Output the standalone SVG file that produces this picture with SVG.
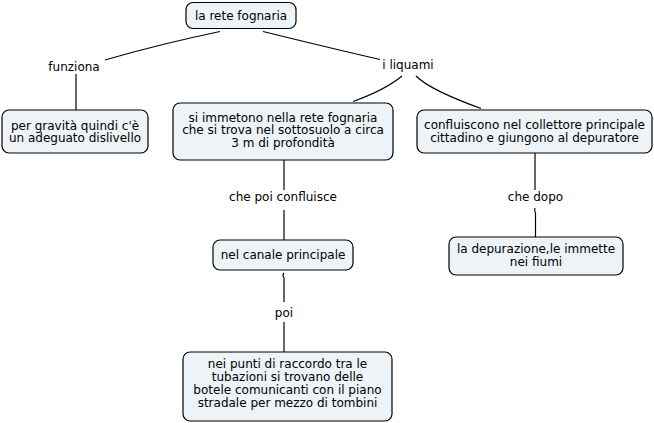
<svg xmlns="http://www.w3.org/2000/svg" width="654" height="423" viewBox="0 0 654 423">
<style>
.n rect{fill:#edf3f6;stroke:#000;stroke-width:1.2}
text{font-family:"DejaVu Sans",Verdana,sans-serif;font-size:12px;fill:#000;text-anchor:middle}
.c path{fill:none;stroke:#000;stroke-width:1.2}
</style>
<rect width="654" height="423" fill="#fff"/>
<g class="c" id="connectors">
<path d="M220,31.5 Q160,44 105,60"/>
<path d="M76,74 L76,110"/>
<path d="M263,31.5 Q330,48 380,59.5"/>
<path d="M402,76 Q385,90 353,101.5"/>
<path d="M416,76 Q430,90 481,108.5"/>
<path d="M284,160 L284,190"/>
<path d="M284,210 L284,240"/>
<path d="M284,273 Q282,275 284,278 L284,302"/>
<path d="M284,322 L284,352"/>
<path d="M535,153 L535,190"/>
<path d="M535,208 Q534,210 535.5,213 L535.5,237"/>
</g>
<g class="n" id="node-rete">
<rect x="186" y="2.5" width="110" height="26" rx="7"/>
<text x="241" y="19.5">la rete fognaria</text>
</g>
<g class="n" id="node-gravita">
<rect x="2" y="110" width="146" height="43" rx="7"/>
<text x="75" y="129.5">per gravità quindi c'è</text>
<text x="75" y="142.3">un adeguato dislivello</text>
</g>
<g class="n" id="node-immetono">
<rect x="173" y="103" width="220" height="57" rx="7"/>
<text x="283" y="121.7">si immetono nella rete fognaria</text>
<text x="283" y="134.4">che si trova nel sottosuolo a circa</text>
<text x="283" y="147.1">3 m di profondità</text>
</g>
<g class="n" id="node-confluiscono">
<rect x="417" y="110" width="235" height="43" rx="7"/>
<text x="534.5" y="129.3">confluiscono nel collettore principale</text>
<text x="534.5" y="142">cittadino e giungono al depuratore</text>
</g>
<g class="n" id="node-canale">
<rect x="213" y="240" width="140" height="30" rx="7"/>
<text x="283" y="259.3">nel canale principale</text>
</g>
<g class="n" id="node-raccordo">
<rect x="183" y="352" width="209" height="69" rx="7"/>
<text x="287.5" y="368.3">nei punti di raccordo tra le</text>
<text x="287.5" y="381">tubazioni si trovano delle</text>
<text x="287.5" y="393.8">botele comunicanti con il piano</text>
<text x="287.5" y="406.6">stradale per mezzo di tombini</text>
</g>
<g class="n" id="node-depurazione">
<rect x="449" y="237" width="174" height="38" rx="7"/>
<text x="536" y="253.3">la depurazione,le immette</text>
<text x="536" y="266">nei fiumi</text>
</g>
<g id="label-funziona"><text x="74" y="70.5">funziona</text></g>
<g id="label-liquami"><text x="408" y="69.3">i liquami</text></g>
<g id="label-chepoi"><text x="283" y="200.7">che poi confluisce</text></g>
<g id="label-poi"><text x="284" y="316.7">poi</text></g>
<g id="label-chedopo"><text x="535.5" y="200.7">che dopo</text></g>
</svg>
